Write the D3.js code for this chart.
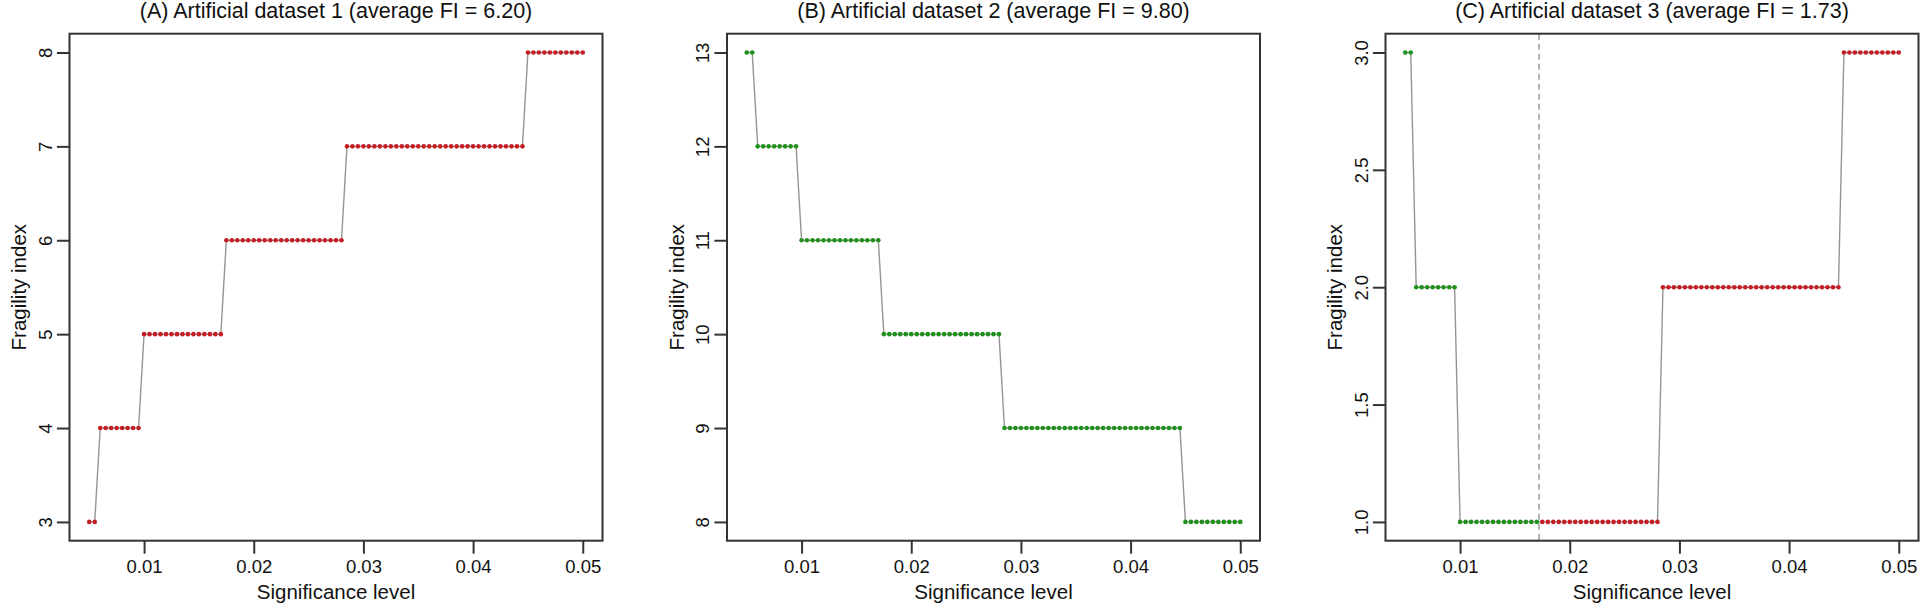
<!DOCTYPE html>
<html>
<head>
    <title>Fragility index vs significance level</title>
    <script src="https://cdnjs.cloudflare.com/ajax/libs/d3/7.8.5/d3.min.js" charset="utf-8"></script>
    <style>
        body { margin: 0; background: white; }
        text { font-family: "Liberation Sans", Arial, Helvetica, sans-serif; fill: #111; }
    </style>
</head>
<body>
    <div id="graph"></div>
</body>
<script>
    // significance levels (x), same for all three panels
    var alphas = [
        0.005, 0.0055, 0.006, 0.0065, 0.007, 0.0075, 0.008, 0.0085, 0.009, 0.0095,
        0.010, 0.0105, 0.011, 0.0115, 0.012, 0.0125, 0.013, 0.0135, 0.014, 0.0145,
        0.015, 0.0155, 0.016, 0.0165, 0.017, 0.0175, 0.018, 0.0185, 0.019, 0.0195,
        0.020, 0.0205, 0.021, 0.0215, 0.022, 0.0225, 0.023, 0.0235, 0.024, 0.0245,
        0.025, 0.0255, 0.026, 0.0265, 0.027, 0.0275, 0.028, 0.0285, 0.029, 0.0295,
        0.030, 0.0305, 0.031, 0.0315, 0.032, 0.0325, 0.033, 0.0335, 0.034, 0.0345,
        0.035, 0.0355, 0.036, 0.0365, 0.037, 0.0375, 0.038, 0.0385, 0.039, 0.0395,
        0.040, 0.0405, 0.041, 0.0415, 0.042, 0.0425, 0.043, 0.0435, 0.044, 0.0445,
        0.045, 0.0455, 0.046, 0.0465, 0.047, 0.0475, 0.048, 0.0485, 0.049, 0.0495,
        0.050
    ];

    var fiA = [
        3, 3,
        4, 4, 4, 4, 4, 4, 4, 4,
        5, 5, 5, 5, 5, 5, 5, 5, 5, 5, 5, 5, 5, 5, 5,
        6, 6, 6, 6, 6, 6, 6, 6, 6, 6, 6,
        6, 6, 6, 6, 6, 6, 6, 6, 6, 6, 6,
        7, 7, 7, 7, 7, 7, 7, 7, 7, 7, 7,
        7, 7, 7, 7, 7, 7, 7, 7, 7, 7, 7,
        7, 7, 7, 7, 7, 7, 7, 7, 7, 7, 7,
        8, 8, 8, 8, 8, 8, 8, 8, 8, 8, 8
    ];

    var fiB = [
        13, 13,
        12, 12, 12, 12, 12, 12, 12, 12,
        11, 11, 11, 11, 11, 11, 11, 11, 11, 11, 11, 11, 11, 11, 11,
        10, 10, 10, 10, 10, 10, 10, 10, 10, 10, 10,
        10, 10, 10, 10, 10, 10, 10, 10, 10, 10, 10,
        9, 9, 9, 9, 9, 9, 9, 9, 9, 9, 9,
        9, 9, 9, 9, 9, 9, 9, 9, 9, 9, 9,
        9, 9, 9, 9, 9, 9, 9, 9, 9, 9, 9,
        8, 8, 8, 8, 8, 8, 8, 8, 8, 8, 8
    ];

    var fiC = [
        3, 3,
        2, 2, 2, 2, 2, 2, 2, 2,
        1, 1, 1, 1, 1, 1, 1, 1, 1, 1, 1, 1, 1, 1, 1,
        1, 1, 1, 1, 1, 1, 1, 1, 1, 1, 1,
        1, 1, 1, 1, 1, 1, 1, 1, 1, 1, 1,
        2, 2, 2, 2, 2, 2, 2, 2, 2, 2, 2,
        2, 2, 2, 2, 2, 2, 2, 2, 2, 2, 2,
        2, 2, 2, 2, 2, 2, 2, 2, 2, 2, 2,
        3, 3, 3, 3, 3, 3, 3, 3, 3, 3, 3
    ];

    var titles = [
        "(A) Artificial dataset 1 (average FI = 6.20)",
        "(B) Artificial dataset 2 (average FI = 9.80)",
        "(C) Artificial dataset 3 (average FI = 1.73)"
    ];

    // first significance level at which the result counts as significant (null = never)
    var sigFrom = [0.005, null, 0.0175];
    // p-value marked with a dashed line (null = not drawn)
    var pValues = [null, null, 0.0172];

    var xTicks = [0.01, 0.02, 0.03, 0.04, 0.05];
    var yTicksA = [3, 4, 5, 6, 7, 8];
    var yTicksB = [8, 9, 10, 11, 12, 13];
    var yTicksC = [1.0, 1.5, 2.0, 2.5, 3.0];

    var xLabel = "Significance level";
    var yLabel = "Fragility index";

    var width = 1920;
    var height = 609;
    var svg = d3.select("#graph").append("svg")
            .attr("width", width)
            .attr("height", height)
            .style("background", "white");

    var panels = [
        {fi: fiA, yTicks: yTicksA, fmt: d3.format("d"), left: 69.5},
        {fi: fiB, yTicks: yTicksB, fmt: d3.format("d"), left: 727},
        {fi: fiC, yTicks: yTicksC, fmt: d3.format(".1f"), left: 1385.5}
    ];
    var plotTop = 33.7, pw = 533, ph = 507;
    var red = "#c41f25", green = "#22901d", axisColor = "#333";

    // R style: pad the data range by 4% on each side
    function padded(lo, hi) {
        var d = (hi - lo) * 0.04;
        return [lo - d, hi + d];
    }

    panels.forEach(function (p, i) {
        var g = svg.append("g").attr("transform", "translate(" + p.left + "," + plotTop + ")");

        var x = d3.scaleLinear().domain(padded(d3.min(alphas), d3.max(alphas))).range([0, pw]);
        var y = d3.scaleLinear().domain(padded(d3.min(p.fi), d3.max(p.fi))).range([ph, 0]);

        var pts = alphas.map(function (a, k) { return {a: a, v: p.fi[k]}; });

        if (pValues[i] != null) {
            g.append("line")
                .attr("x1", x(pValues[i])).attr("x2", x(pValues[i]))
                .attr("y1", 0).attr("y2", ph)
                .attr("stroke", "#a0a0a0")
                .attr("stroke-width", 1.6)
                .attr("stroke-dasharray", "6,4");
        }

        g.append("path")
            .datum(pts)
            .attr("fill", "none")
            .attr("stroke", "#949494")
            .attr("stroke-width", 1.4)
            .attr("d", d3.line().x(function (d) { return x(d.a); }).y(function (d) { return y(d.v); }));

        g.selectAll("circle")
            .data(pts)
            .enter()
            .append("circle")
            .attr("cx", function (d) { return x(d.a); })
            .attr("cy", function (d) { return y(d.v); })
            .attr("r", 2.3)
            .attr("fill", function (d) {
                if (sigFrom[i] != null && d.a >= sigFrom[i] - 1e-9) return red;
                return green;
            });

        // box
        g.append("rect")
            .attr("width", pw).attr("height", ph)
            .attr("fill", "none")
            .attr("stroke", axisColor)
            .attr("stroke-width", 2);

        var xAxis = g.append("g")
            .attr("transform", "translate(0," + ph + ")")
            .call(d3.axisBottom(x).tickValues(xTicks).tickSize(13).tickPadding(6.5)
                .tickFormat(d3.format(".2f")));
        xAxis.select(".domain").remove();
        xAxis.selectAll("line").attr("stroke", axisColor).attr("stroke-width", 2);
        xAxis.selectAll("text").attr("font-size", "18.5px").attr("fill", "#111")
            .attr("font-family", "Liberation Sans, Arial, sans-serif");

        var yAxis = g.append("g")
            .call(d3.axisLeft(y).tickValues(p.yTicks).tickSize(12.6).tickFormat(p.fmt));
        yAxis.select(".domain").remove();
        yAxis.selectAll("line").attr("stroke", axisColor).attr("stroke-width", 2);
        yAxis.selectAll("text")
            .attr("transform", "rotate(-90)")
            .attr("x", 0)
            .attr("y", -18)
            .attr("dy", 0)
            .attr("text-anchor", "middle")
            .attr("font-size", "18.5px").attr("fill", "#111")
            .attr("font-family", "Liberation Sans, Arial, sans-serif");

        g.append("text")
            .attr("x", pw / 2).attr("y", 17.5 - plotTop)
            .attr("text-anchor", "middle")
            .attr("font-size", "21.5px")
            .text(titles[i]);

        g.append("text")
            .attr("x", pw / 2).attr("y", 599 - plotTop)
            .attr("text-anchor", "middle")
            .attr("font-size", "20.5px")
            .text(xLabel);

        g.append("text")
            .attr("transform", "translate(-43.5," + (ph / 2) + ") rotate(-90)")
            .attr("text-anchor", "middle")
            .attr("font-size", "20.5px")
            .text(yLabel);
    });
</script>
</html>
